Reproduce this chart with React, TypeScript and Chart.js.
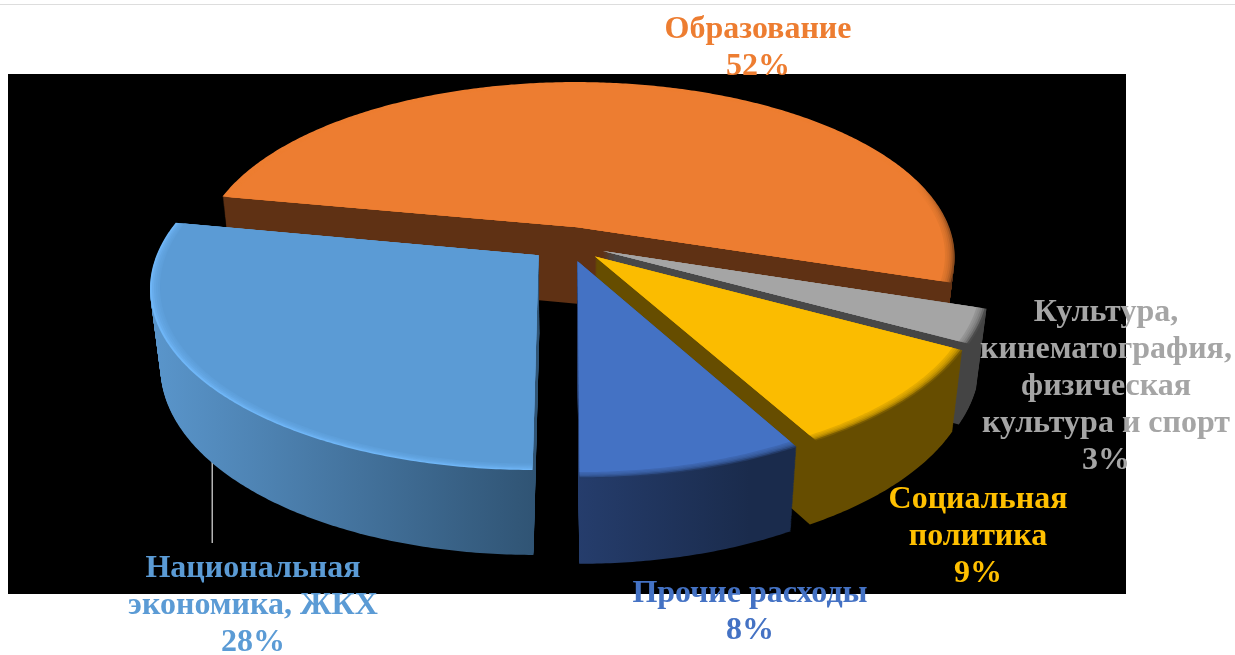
import React, { useEffect, useRef } from "react";
import { Chart, registerables } from "chart.js";

Chart.register(...registerables);

// ---- data ----
const categories = [
  ["Образование"],
  ["Культура,", "кинематография,", "физическая", "культура и спорт"],
  ["Социальная", "политика"],
  ["Прочие расходы"],
  ["Национальная", "экономика, ЖКХ"],
];
const shares = [52, 3, 9, 8, 28];

// ---- styles ----
const faceColors = ["#ED7D31", "#A5A5A5", "#FBBC00", "#4472C4", "#5B9BD5"];
const labelColors = ["#ED7D31", "#A5A5A5", "#FFC000", "#4472C4", "#5B9BD5"];
const wallLeft = ["#5F3114", "#484848", "#664D00", "#263E6E", "#5A96CC"];
const wallRight = ["#5F3114", "#444444", "#664D00", "#1A2B4C", "#305474"];
const rimLeft = ["#ED7D31", "#A5A5A5", "#7A5C00", "#233A66", "#6FB6F7"];
const rimRight = ["#8A4A1C", "#4C4C4C", "#7A5C00", "#233A66", "#6FB6F7"];

// ---- layout ----
const labelCenterX = [758, 1106, 978, 750, 253];
const labelFirstBaseline = [38, 321, 508, 602, 577];
const LABEL_LINE = 37;
const LABEL_FONT = "bold 32px 'Liberation Serif'";
const PANEL = { x: 8, y: 74, w: 1118, h: 520 };
const LEADER = { x: 211.5, y0: 440, y1: 543 };
// perspective model of the pie plane
const VIEW = { ox: 568, oy: 244, a: 378, b: 174.7, k: 0.167, depth: 77, explode: 0.1, shrink: 0.025 };

function project(X: number, Y: number, t: number): [number, number] {
  const w = 1 - VIEW.k * Y;
  return [
    VIEW.ox + ((VIEW.a * X) / w) * (1 - VIEW.shrink * t),
    VIEW.oy + (VIEW.b * Y) / w + (t * VIEW.depth) / Math.sqrt(w),
  ];
}

function slicePath(
  ctx: CanvasRenderingContext2D,
  start: number,
  end: number,
  t: number,
  rho: number
) {
  const mid = (start + end) / 2;
  const ex = Math.cos(mid) * VIEW.explode;
  const ey = Math.sin(mid) * VIEW.explode;
  ctx.beginPath();
  const [ax, ay] = project(ex, ey, t);
  ctx.moveTo(ax, ay);
  const steps = Math.max(8, Math.ceil((end - start) / 0.01));
  for (let i = 0; i <= steps; i++) {
    const a = start + ((end - start) * i) / steps;
    const [x, y] = project(ex + rho * Math.cos(a), ey + rho * Math.sin(a), t);
    ctx.lineTo(x, y);
  }
  ctx.closePath();
}

function hGrad(ctx: CanvasRenderingContext2D, x0: number, x1: number, c0: string, c1: string) {
  const g = ctx.createLinearGradient(x0, 0, x1, 0);
  g.addColorStop(0, c0);
  g.addColorStop(1, c1);
  return g;
}

const pie3d = {
  id: "pie3d",
  beforeDraw(chart: any) {
    const ctx: CanvasRenderingContext2D = chart.ctx;
    ctx.save();
    ctx.fillStyle = "#FFFFFF";
    ctx.fillRect(0, 0, chart.width, chart.height);
    ctx.fillStyle = "#DDDDDD";
    ctx.fillRect(0, 4, chart.width, 1);
    ctx.fillStyle = "#000000";
    ctx.fillRect(PANEL.x, PANEL.y, PANEL.w, PANEL.h);
    ctx.fillStyle = "#B4B4B4";
    ctx.fillRect(LEADER.x, LEADER.y0, 1.5, LEADER.y1 - LEADER.y0);
    ctx.restore();
  },
  beforeDatasetsDraw(chart: any) {
    const ctx: CanvasRenderingContext2D = chart.ctx;
    const arcs = chart.getDatasetMeta(0).data;
    ctx.save();
    arcs.forEach((arc: any, i: number) => {
      const { startAngle, endAngle } = arc;
      const x0 = project(Math.min(...[startAngle, endAngle].map(Math.cos)), 0, 0)[0];
      const x1 = project(Math.max(...[startAngle, endAngle].map(Math.cos)), 0, 0)[0];
      const left = i === 4 ? 150 : Math.min(x0, x1);
      const right = i === 4 ? 535 : Math.max(x0, x1);
      // side walls
      ctx.fillStyle = hGrad(ctx, left, right, wallLeft[i], wallRight[i]);
      for (let d = VIEW.depth; d >= 1; d--) {
        slicePath(ctx, startAngle, endAngle, d / VIEW.depth, 1);
        ctx.fill();
      }
      // rim
      const rimFrom = i === 0 ? 915 : left;
      const rimTo = i === 0 ? 955 : right;
      ctx.fillStyle = hGrad(ctx, rimFrom, rimTo, rimLeft[i], rimRight[i]);
      slicePath(ctx, startAngle, endAngle, 0, 1);
      ctx.fill();
      // top face, feathered inward from the rim
      const face = arc.options.backgroundColor;
      ctx.fillStyle = face;
      const layers = 5;
      for (let j = 1; j <= layers; j++) {
        ctx.globalAlpha = j === layers ? 1 : 0.35;
        slicePath(ctx, startAngle, endAngle, 0, 1 - (0.025 * j) / layers);
        ctx.fill();
      }
      ctx.globalAlpha = 1;
    });
    ctx.restore();
    return false;
  },
  afterDraw(chart: any) {
    const ctx: CanvasRenderingContext2D = chart.ctx;
    ctx.save();
    ctx.font = LABEL_FONT;
    ctx.textAlign = "center";
    ctx.textBaseline = "alphabetic";
    categories.forEach((lines, i) => {
      ctx.fillStyle = labelColors[i];
      [...lines, `${shares[i]}%`].forEach((line, n) => {
        ctx.fillText(line, labelCenterX[i], labelFirstBaseline[i] + n * LABEL_LINE);
      });
    });
    ctx.restore();
  },
};

export default function App() {
  const ref = useRef<HTMLCanvasElement | null>(null);
  useEffect(() => {
    if (!ref.current) return;
    const chart = new Chart(ref.current, {
      type: "pie",
      data: {
        labels: categories.map((c) => c.join(" ")),
        datasets: [{ data: shares, backgroundColor: faceColors, borderWidth: 0 }],
      },
      options: {
        animation: false,
        responsive: false,
        events: [],
        rotation: 280.8,
        plugins: { legend: { display: false }, tooltip: { enabled: false } },
      },
      plugins: [pie3d],
    } as any);
    return () => chart.destroy();
  }, []);
  return (
    <div style={{ position: "fixed", left: 0, top: 0, width: 1235, height: 655 }}>
      <canvas ref={ref} width={1235} height={655} style={{ display: "block" }} />
    </div>
  );
}
